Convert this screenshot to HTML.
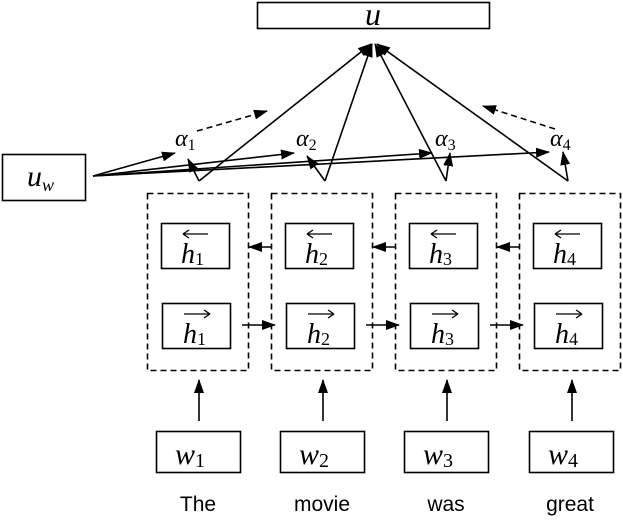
<!DOCTYPE html>
<html><head><meta charset="utf-8"><style>
html,body{margin:0;padding:0;background:#fff;width:623px;height:529px;overflow:hidden}
svg{display:block}
.m{font-family:"Liberation Serif",serif;font-style:italic}
.s{font-family:"Liberation Serif",serif;font-style:normal}
.w{font-family:"Liberation Sans",sans-serif}
</style></head><body>
<svg width="623" height="529" viewBox="0 0 623 529" xmlns="http://www.w3.org/2000/svg">
<defs>
<marker id="b" markerWidth="14" markerHeight="10" refX="13" refY="5" orient="auto" markerUnits="userSpaceOnUse">
<path d="M0,0 L14,5 L0,10 z" fill="#000"/></marker>
</defs>
<g fill="none" stroke="#000" stroke-width="1.6">
<rect x="257.5" y="2.5" width="232" height="26"/>
<rect x="2.5" y="154.5" width="83" height="46"/>
<g stroke-dasharray="6,4">
<rect x="147.5" y="193.5" width="101" height="177"/>
<rect x="271.5" y="193.5" width="101" height="177"/>
<rect x="395.5" y="193.5" width="101" height="177"/>
<rect x="519.5" y="193.5" width="101" height="177"/>
</g>
<rect x="161.5" y="223.5" width="68" height="45"/><rect x="162.5" y="303.5" width="68" height="45"/>
<rect x="285.5" y="223.5" width="68" height="45"/><rect x="286.5" y="303.5" width="68" height="45"/>
<rect x="409.5" y="223.5" width="68" height="45"/><rect x="410.5" y="303.5" width="68" height="45"/>
<rect x="533.5" y="223.5" width="68" height="45"/><rect x="534.5" y="303.5" width="68" height="45"/>
<rect x="156.5" y="431.5" width="84" height="41"/>
<rect x="280.5" y="431.5" width="84" height="41"/>
<rect x="404.5" y="431.5" width="84" height="41"/>
<rect x="529.5" y="431.5" width="84" height="41"/>
</g>
<g fill="none" stroke="#000" stroke-width="1.6">
<line x1="199" y1="421" x2="199" y2="380" marker-end="url(#b)"/>
<line x1="323" y1="421" x2="323" y2="380" marker-end="url(#b)"/>
<line x1="447" y1="421" x2="447" y2="380" marker-end="url(#b)"/>
<line x1="572" y1="421" x2="572" y2="380" marker-end="url(#b)"/>
<line x1="271" y1="247" x2="249" y2="247" marker-end="url(#b)"/>
<line x1="395" y1="247" x2="373" y2="247" marker-end="url(#b)"/>
<line x1="519" y1="247" x2="497" y2="247" marker-end="url(#b)"/>
<line x1="242" y1="325" x2="275" y2="325" marker-end="url(#b)"/>
<line x1="366" y1="325" x2="399" y2="325" marker-end="url(#b)"/>
<line x1="490" y1="325" x2="523" y2="325" marker-end="url(#b)"/>
<line x1="93" y1="176" x2="175" y2="153" marker-end="url(#b)"/>
<line x1="93" y1="176" x2="294" y2="153" marker-end="url(#b)"/>
<line x1="93" y1="176" x2="432" y2="153" marker-end="url(#b)"/>
<line x1="93" y1="176" x2="549" y2="152" marker-end="url(#b)"/>
<line x1="199" y1="181" x2="188" y2="159" marker-end="url(#b)"/>
<line x1="325" y1="181" x2="307" y2="156" marker-end="url(#b)"/>
<line x1="446" y1="181" x2="450" y2="153" marker-end="url(#b)"/>
<line x1="568" y1="181" x2="563" y2="152" marker-end="url(#b)"/>
<line x1="199" y1="181" x2="371" y2="44" marker-end="url(#b)"/>
<line x1="325" y1="181" x2="372" y2="44" marker-end="url(#b)"/>
<line x1="446" y1="181" x2="375" y2="44" marker-end="url(#b)"/>
<line x1="568" y1="181" x2="377" y2="44" marker-end="url(#b)"/>
<line x1="197" y1="131" x2="267" y2="111" stroke-dasharray="6,4" marker-end="url(#b)"/>
<line x1="555" y1="129" x2="483" y2="106" stroke-dasharray="6,4" marker-end="url(#b)"/>
</g>
<text x="373" y="25" class="m" font-size="32" text-anchor="middle">u</text>
<text x="27" y="186" class="m" font-size="30">u<tspan class="m" font-size="18" dy="5">w</tspan></text>
<g class="m" font-size="24">
<text x="175" y="146">α<tspan class="s" font-size="16" dy="4">1</tspan></text>
<text x="296" y="146">α<tspan class="s" font-size="16" dy="4">2</tspan></text>
<text x="435" y="146">α<tspan class="s" font-size="16" dy="4">3</tspan></text>
<text x="550" y="146">α<tspan class="s" font-size="16" dy="4">4</tspan></text>
</g>
<g class="m" font-size="28">
<text x="181" y="263">h<tspan class="s" font-size="18" dy="2">1</tspan></text>
<text x="305" y="263">h<tspan class="s" font-size="18" dy="2">2</tspan></text>
<text x="429" y="263">h<tspan class="s" font-size="18" dy="2">3</tspan></text>
<text x="553" y="263">h<tspan class="s" font-size="18" dy="2">4</tspan></text>
<text x="183" y="343">h<tspan class="s" font-size="18" dy="2">1</tspan></text>
<text x="307" y="343">h<tspan class="s" font-size="18" dy="2">2</tspan></text>
<text x="431" y="343">h<tspan class="s" font-size="18" dy="2">3</tspan></text>
<text x="555" y="343">h<tspan class="s" font-size="18" dy="2">4</tspan></text>
</g>
<g stroke="#000" stroke-width="1.3" fill="none">
<path d="M183,234 H208 M183,234 l6,-4 M183,234 l6,4"/>
<path d="M307,234 H332 M307,234 l6,-4 M307,234 l6,4"/>
<path d="M431,234 H456 M431,234 l6,-4 M431,234 l6,4"/>
<path d="M555,234 H580 M555,234 l6,-4 M555,234 l6,4"/>
<path d="M184,314 H210 M210,314 l-6,-4 M210,314 l-6,4"/>
<path d="M308,314 H334 M334,314 l-6,-4 M334,314 l-6,4"/>
<path d="M432,314 H458 M458,314 l-6,-4 M458,314 l-6,4"/>
<path d="M556,314 H582 M582,314 l-6,-4 M582,314 l-6,4"/>
</g>
<g class="m" font-size="30">
<text x="175" y="464">w<tspan class="s" font-size="20" dy="3">1</tspan></text>
<text x="299" y="464">w<tspan class="s" font-size="20" dy="3">2</tspan></text>
<text x="423" y="464">w<tspan class="s" font-size="20" dy="3">3</tspan></text>
<text x="548" y="464">w<tspan class="s" font-size="20" dy="3">4</tspan></text>
</g>
<g class="w" font-size="21" text-anchor="middle">
<text x="198" y="511">The</text>
<text x="322" y="511">movie</text>
<text x="446" y="511">was</text>
<text x="570" y="511">great</text>
</g>
</svg>
</body></html>
